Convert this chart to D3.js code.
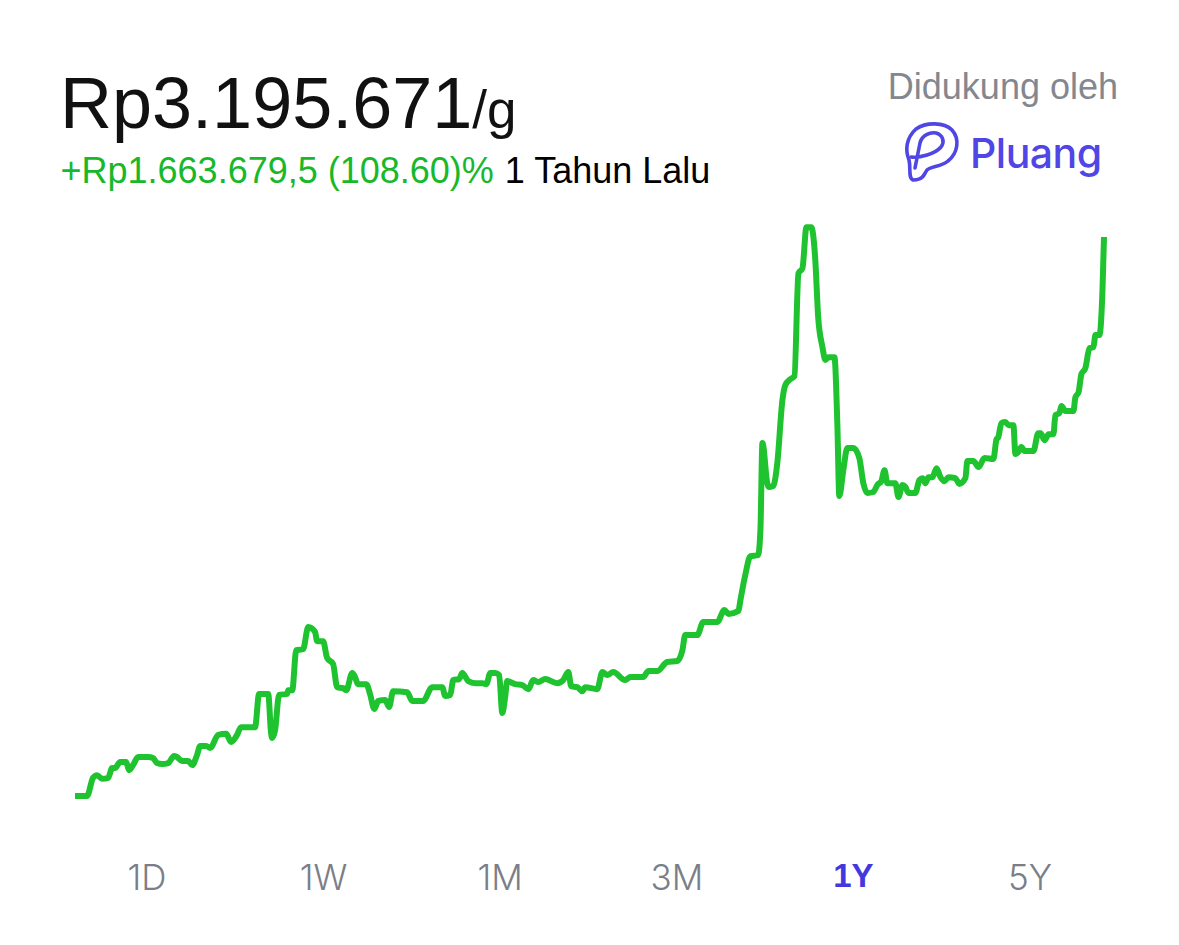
<!DOCTYPE html>
<html><head><meta charset="utf-8">
<script src="https://cdn.jsdelivr.net/npm/d3@7/dist/d3.min.js"></script>
<style>html,body{margin:0;padding:0;background:#fff}svg{display:block}text{font-family:"Liberation Sans",Arial,sans-serif}</style>
</head><body><svg id="c" width="1179" height="945"></svg>
<script>
const days=[0,4.2,6.3,7.7,9.5,11.6,13,14,15.8,17.9,18.9,20.3,22.1,25.6,27.3,28.7,30.5,32.6,34.7,35.7,37.5,39.6,41,42.7,43.8,45.9,47.3,50.1,52.9,54.6,56.7,58.1,63,64.4,67.6,68.6,69,70,71.4,74.2,74.6,76,77.4,79.8,81.6,84,84.7,86.8,88.2,90.3,91.7,93.8,94.9,97,98,99,101.9,103.3,104.7,106.1,108.5,109.9,111.3,116.2,118,121.8,125,128.5,129.5,131.3,132.3,134.4,135.5,137.6,140,142.5,143.9,145.3,147,148.4,149.5,150.5,151.2,154,156.5,158.6,160.3,162.1,164.5,168.7,170.8,172.6,173.6,175.7,177.5,178.5,182.7,184.5,186.2,188.3,192.5,194.3,198.8,200.6,203.7,207.2,210.7,212.5,213.5,217.7,219.8,224.7,227.2,228.6,232.1,232.8,234.5,236.3,239,239.8,240.5,242.2,242.6,244.3,245.7,247.5,248.5,250.3,251.7,253.1,254.5,255.9,257.6,259,260,261.5,262.5,263.6,265.7,266.7,267.4,268.8,270.2,272.3,274.4,275.8,277.2,279.3,280.7,282.1,283.2,284.2,287,288.1,289.5,290.5,291.6,294,295.4,296.5,297.5,298.6,300,301.4,302.8,304.2,305.6,308,309.4,311.5,312.2,314.3,316.1,318.2,321.3,322.4,323,324.1,325.5,326.6,328.3,329,330,331.1,332.2,335.3,337,337.8,339.2,340.6,342.3,343,344.4,345.1,346.5,349.3,350,351.1,352.1,353.5,354.9,356.3,357,358.4,359.5,360];
const priceK=[1532,1532,1586,1594,1583,1586,1615,1615,1633,1633,1609,1624,1648,1648,1645,1630,1627,1630,1651,1648,1636,1636,1624,1654,1681,1681,1675,1714,1717,1693,1714,1737,1737,1836,1836,1719,1705,1728,1833,1836,1847,1847,1966,1969,2035,2020,1993,1993,1943,1925,1856,1853,1847,1898,1886,1865,1865,1833,1791,1815,1818,1797,1844,1841,1815,1815,1856,1856,1830,1833,1877,1880,1898,1874,1868,1868,1865,1898,1898,1892,1779,1827,1874,1865,1862,1850,1877,1871,1880,1868,1877,1901,1859,1856,1844,1856,1850,1901,1892,1901,1877,1886,1886,1904,1904,1931,1934,1966,2011,2011,2050,2050,2086,2074,2083,2115,2190,2246,2249,2324,2583,2463,2452,2455,2523,2711,2755,2773,2782,3088,3103,3225,3225,3127,2958,2868,2830,2838,2838,2642,2425,2502,2568,2568,2538,2463,2434,2437,2458,2469,2502,2463,2463,2422,2458,2452,2434,2434,2472,2478,2463,2481,2481,2508,2481,2469,2481,2478,2461,2478,2529,2529,2511,2538,2535,2594,2600,2642,2645,2636,2636,2550,2556,2571,2559,2559,2612,2612,2591,2609,2609,2666,2672,2693,2678,2678,2719,2734,2788,2806,2865,2868,2904,2904,3047,3196];
const tabLabels=["1D","1W","1M","3M","1Y","5Y"];
const activeTab="1Y";
const priceText="Rp3.195.671", unitText="/g";
const changeText="+Rp1.663.679,5 (108.60)%", periodText="1 Tahun Lalu";
const sponsorText="Didukung oleh", brandText="Pluang";

const svg=d3.select("#c");
const x=d3.scaleLinear().domain([0,360]).range([75,1104]);
const y=d3.scaleLinear().domain([1532,3196]).range([796,237]);
const line=d3.line().x((d,i)=>x(days[i])).y(d=>y(d)).curve(d3.curveMonotoneX);
svg.append("path").datum(priceK).attr("d",line).attr("fill","none")
  .attr("stroke","#1fc32f").attr("stroke-width",6).attr("stroke-linejoin","round");

const head=svg.append("text").attr("x",60).attr("y",128).attr("fill","#111");
head.append("tspan").attr("font-size",72).text(priceText);
head.append("tspan").attr("font-size",53).text(unitText);
const sub=svg.append("text").attr("x",60.5).attr("y",183).attr("font-size",36);
sub.append("tspan").attr("fill","#17b92a").text(changeText);
sub.append("tspan").attr("fill","#000").attr("dx",1).text(" "+periodText);
svg.append("text").attr("x",1118).attr("y",98.5).attr("text-anchor","end").attr("font-size",36).attr("fill","#84878f").text(sponsorText);

const g=svg.append("g").attr("fill","none").attr("stroke","#4f46e5").attr("stroke-width",3.6).attr("stroke-linecap","round").attr("stroke-linejoin","round");
g.append("path").attr("d","M913 180C908 178 911 168 909 160C905 150 906 138 916 129C926 122 944 122 952 130C960 139 958 153 948 161C941 167 931 166 927 170C924 174 924 178 919 179C917 180 915 180 913 180Z");
g.append("path").attr("d","M915 168L920 143C922 135 930 132 936 133C943 135 945 142 941 147C935 154 920 158 911 157");
svg.append("text").attr("x",970).attr("y",168).style("font-family","Inter").attr("font-size",41).attr("font-weight",500).attr("letter-spacing",-0.5).attr("fill","#4f46e5").text(brandText);

const tabX=d3.scalePoint().domain(tabLabels).range([147,1030]);
svg.selectAll("text.tab").data(tabLabels).join("text").attr("class","tab")
  .attr("x",d=>tabX(d)).attr("y",d=>d===activeTab?887:889.5).attr("text-anchor","middle")
  .style("font-family",d=>d===activeTab?"'Liberation Sans'":"Inter")
  .attr("font-size",d=>d===activeTab?33:35).attr("font-weight",d=>d===activeTab?700:300)
  .attr("fill",d=>d===activeTab?"#4338e0":"#7b7e87").text(d=>d);
</script></body></html>
